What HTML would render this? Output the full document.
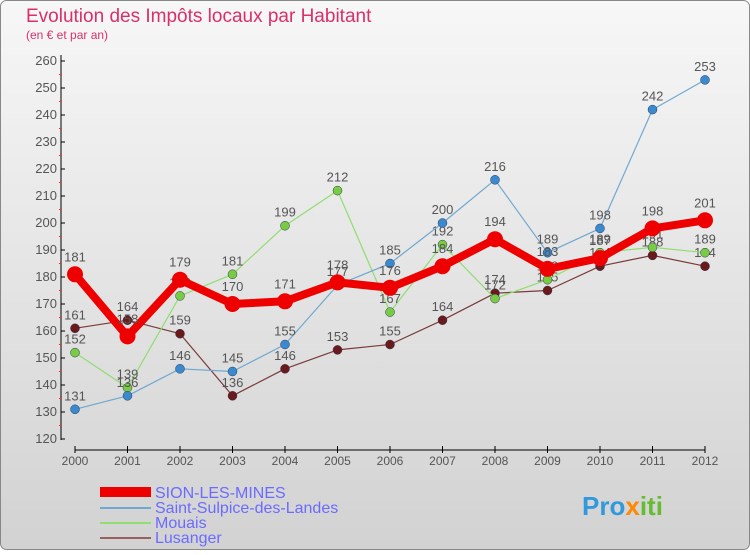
<!DOCTYPE html>
<html><head><meta charset="utf-8"><style>
body{margin:0}
#c{width:750px;height:550px;position:relative;font-family:"Liberation Sans",sans-serif}
</style></head><body>
<div id="c">
<svg id="s" width="750" height="550" xmlns="http://www.w3.org/2000/svg">
<defs><linearGradient id="bg" x1="0" y1="0" x2="0" y2="1"><stop offset="0" stop-color="#f7f7f7"/><stop offset="1" stop-color="#d2d2d2"/></linearGradient></defs>
<rect x="0.5" y="0.5" width="749" height="549" rx="6" fill="url(#bg)" stroke="#888"/>
<text x="26" y="22" font-size="19" fill="#d9306a">Evolution des Impôts locaux par Habitant</text>
<text x="26" y="39" font-size="12" fill="#d9306a">(en € et par an)</text>
<g id="axes"></g><g id="series"></g>
<g>
<rect x="100" y="487" width="51" height="10" fill="#ee0000"/>
<text x="155" y="498" font-size="16" fill="#6b6bff">SION-LES-MINES</text>
<rect x="100" y="507" width="51" height="2" fill="#6fa8d0"/>
<text x="155" y="513" font-size="16" fill="#6b6bff">Saint-Sulpice-des-Landes</text>
<rect x="100" y="522" width="51" height="2" fill="#90dd70"/>
<text x="155" y="528" font-size="16" fill="#6b6bff">Mouais</text>
<rect x="100" y="537" width="51" height="2" fill="#9a6060"/>
<text x="155" y="543" font-size="16" fill="#6b6bff">Lusanger</text>
</g>
<text x="582" y="515" font-size="26" font-weight="bold" fill="#3399dd">Pro<tspan fill="#ff8800">x</tspan><tspan fill="#66bb33">iti</tspan></text>
</svg></div>
<script>
const years=[2000,2001,2002,2003,2004,2005,2006,2007,2008,2009,2010,2011,2012];
const sion=[181,158,179,170,171,178,176,184,194,183,187,198,201];
const sulpice=[131,136,146,145,155,177,185,200,216,189,198,242,253];
const mouais=[152,139,173,181,199,212,167,192,172,179,189,191,189];
const lusanger=[161,164,159,136,146,153,155,164,174,175,184,188,184];
const yTicks=[120,130,140,150,160,170,180,190,200,210,220,230,240,250,260];
const NS="http://www.w3.org/2000/svg";
const x=i=>75+i*52.5, y=v=>439-(v-120)*2.7;
function mk(t,a,p){const e=document.createElementNS(NS,t);for(const k in a)e.setAttribute(k,a[k]);p.appendChild(e);return e;}
const ax=document.getElementById('axes');
let yl=mk('line',{x1:61,y1:55,x2:61,y2:440,stroke:'#000'},ax);

yTicks.forEach(v=>{mk('line',{x1:61,y1:y(v),x2:65,y2:y(v),stroke:'#000'},ax);
 if(v<260)mk('line',{x1:59,y1:y(v+5),x2:62,y2:y(v+5),stroke:'#e33'},ax);
 const t=mk('text',{x:57,y:y(v)+4,'text-anchor':'end','font-size':13,fill:'#555'},ax);t.textContent=v;
 });
let xl=mk('line',{x1:x(0),y1:450,x2:x(12),y2:450,stroke:'#000'},ax);

years.forEach((yr,i)=>{mk('line',{x1:x(i),y1:446,x2:x(i),y2:453,stroke:'#000'},ax);
 const t=mk('text',{x:x(i),y:465,'text-anchor':'middle','font-size':12,fill:'#555'},ax);t.textContent=yr;
 });
const sg=document.getElementById('series');
function draw(data,name,color,dot,w,r){
 const g=mk('g',{},sg);
 mk('polyline',{points:data.map((v,i)=>x(i)+','+y(v)).join(' '),fill:'none',stroke:color,'stroke-width':w,'stroke-linejoin':'round'},g);
 data.forEach((v,i)=>{const c=mk('circle',{cx:x(i),cy:y(v),r:r,fill:dot,stroke:w>3?'none':'#335',"stroke-width":0.5},g);
  
  const t=mk('text',{x:x(i),y:y(v)-(w>3?13:9),'text-anchor':'middle','font-size':13,fill:'#555'},g);t.textContent=v;
  });
}
draw(lusanger,'lusanger','#7a3a3a','#6a1a1a',1.2,4.5);
draw(mouais,'mouais','#90dd70','#77cc44',1.2,4.5);
draw(sulpice,'saint-sulpice','#6fa8d0','#3a8ad0',1.2,4.5);
draw(sion,'sion','#ee0000','#ee0000',8,8);
</script></body></html>
